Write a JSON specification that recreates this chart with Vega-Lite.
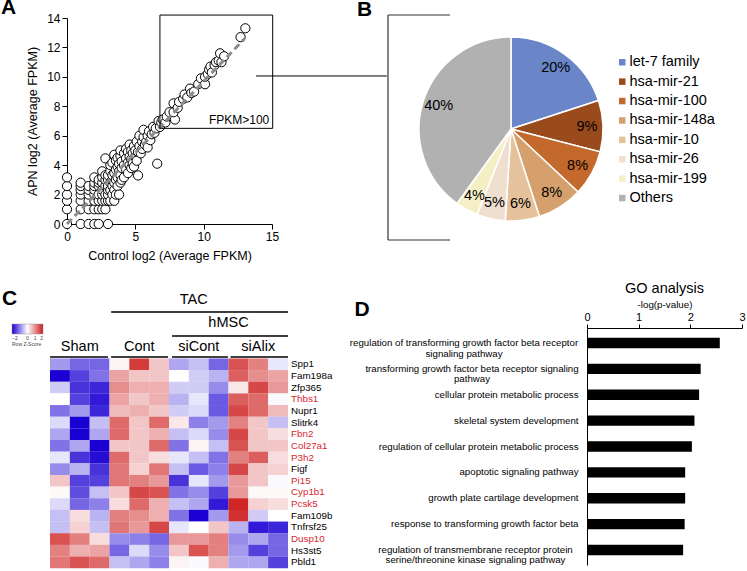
{
  "$schema": "https://vega.github.io/schema/vega-lite/v6.json",
  "padding": {"left": 1, "top": -3, "right": 2, "bottom": 0},
  "background": "white",
  "config": {
    "font": "Liberation Sans",
    "view": {"stroke": null},
    "axis": {"grid": false, "domainColor": "black", "tickColor": "black", "labelColor": "black", "titleColor": "black", "titleFontWeight": "normal", "labelFont": "Liberation Sans", "titleFont": "Liberation Sans", "labelOverlap": false},
    "legend": {"labelFont": "Liberation Sans", "titleFont": "Liberation Sans", "labelColor": "black"},
    "title": {"font": "Liberation Sans", "color": "black"},
    "text": {"font": "Liberation Sans"}
  },
  "datasets": {
    "scatter": [
      {"x":0,"y":0},{"x":0,"y":1},{"x":0,"y":1.58},{"x":0,"y":2},{"x":0,"y":2.58},{"x":0,"y":3.17},
      {"x":1,"y":0},{"x":1.58,"y":0},{"x":2,"y":0},{"x":2.32,"y":0},{"x":3,"y":0},
      {"x":1,"y":1},{"x":1,"y":1.58},{"x":1,"y":2},{"x":1,"y":2.32},{"x":1,"y":2.58},{"x":1,"y":2.81},
      {"x":1.58,"y":1},{"x":1.58,"y":1.58},{"x":1.58,"y":2},{"x":1.58,"y":2.32},{"x":1.58,"y":2.58},
      {"x":2,"y":1},{"x":2,"y":1.58},{"x":2,"y":2},{"x":2,"y":2.32},{"x":2,"y":2.58},{"x":2,"y":2.81},{"x":2,"y":3.17},
      {"x":2.32,"y":1},{"x":2.32,"y":1.58},{"x":2.32,"y":2},{"x":2.32,"y":2.58},{"x":2.32,"y":2.81},{"x":2.32,"y":3},
      {"x":2.58,"y":1},{"x":2.58,"y":1.58},{"x":2.58,"y":2},{"x":2.58,"y":2.32},{"x":2.58,"y":2.81},{"x":2.58,"y":3.17},{"x":2.58,"y":3.58},
      {"x":2.81,"y":1},{"x":2.81,"y":1.58},{"x":2.81,"y":2},{"x":2.81,"y":2.58},{"x":2.81,"y":3},{"x":2.81,"y":3.32},{"x":2.81,"y":4.46},
      {"x":3,"y":1.58},{"x":3,"y":2},{"x":3,"y":2.32},{"x":3,"y":2.58},{"x":3,"y":3},{"x":3,"y":3.32},
      {"x":3.17,"y":1.58},{"x":3.17,"y":2.32},{"x":3.17,"y":2.81},{"x":3.17,"y":3.58},{"x":3.17,"y":4},
      {"x":3.32,"y":2},{"x":3.32,"y":2.58},{"x":3.32,"y":3},{"x":3.32,"y":3.32},{"x":3.32,"y":4.17},
      {"x":3.46,"y":1.58},{"x":3.46,"y":2.32},{"x":3.46,"y":2.81},{"x":3.46,"y":3.46},{"x":3.46,"y":4.7},
      {"x":3.58,"y":2},{"x":3.58,"y":3},{"x":3.58,"y":3.7},{"x":3.58,"y":4.32},
      {"x":3.7,"y":2.58},{"x":3.7,"y":3.17},{"x":3.7,"y":3.9},{"x":3.7,"y":4.5},
      {"x":3.81,"y":2},{"x":3.81,"y":3.58},{"x":3.81,"y":4.09},
      {"x":3.91,"y":2.81},{"x":3.91,"y":3.32},{"x":3.91,"y":4.64},{"x":3.91,"y":5.0},
      {"x":4,"y":3},{"x":4,"y":3.81},{"x":4,"y":4.25},
      {"x":4.17,"y":3.17},{"x":4.17,"y":4.0},{"x":4.17,"y":4.8},
      {"x":4.32,"y":3.7},{"x":4.32,"y":4.46},{"x":4.32,"y":5.1},
      {"x":4.46,"y":3.46},{"x":4.46,"y":4.17},{"x":4.46,"y":4.9},
      {"x":4.58,"y":4.0},{"x":4.58,"y":4.58},{"x":4.58,"y":5.4},
      {"x":4.7,"y":3.8},{"x":4.7,"y":4.4},{"x":4.7,"y":5.0},
      {"x":4.81,"y":4.1},{"x":4.81,"y":4.8},{"x":4.9,"y":3.9},{"x":4.9,"y":5.3},
      {"x":5,"y":4.6},{"x":5,"y":5.0},{"x":5.1,"y":4.3},{"x":5.1,"y":5.6},
      {"x":5.2,"y":3.3},{"x":5.2,"y":4.9},{"x":5.3,"y":5.3},{"x":5.3,"y":6.0},
      {"x":5.4,"y":4.8},{"x":5.5,"y":5.6},{"x":5.5,"y":5.1},{"x":5.6,"y":5.9},{"x":5.6,"y":6.4},{"x":5.7,"y":5.4},
      {"x":5.8,"y":5.6},{"x":5.9,"y":6.0},{"x":5.9,"y":5.2},{"x":6,"y":6.3},{"x":6.1,"y":5.7},{"x":6.2,"y":6.1},
      {"x":6.3,"y":6.6},{"x":6.4,"y":6.2},{"x":6.5,"y":6.5},{"x":6.6,"y":4.1},{"x":6.7,"y":7.0},{"x":6.8,"y":6.6},
      {"x":6.9,"y":6.9},{"x":7.0,"y":7.1},{"x":7.2,"y":6.9},{"x":7.3,"y":7.3},{"x":7.5,"y":7.6},{"x":7.9,"y":7.1},
      {"x":7.8,"y":7.6},{"x":7.8,"y":8.2},{"x":8.1,"y":7.9},{"x":8.2,"y":8.3},{"x":8.5,"y":8.5},{"x":8.6,"y":8.8},
      {"x":8.8,"y":8.6},{"x":9.0,"y":9.2},{"x":9.1,"y":8.9},{"x":9.3,"y":9.0},{"x":9.6,"y":9.5},{"x":9.8,"y":9.9},
      {"x":10.1,"y":9.5},{"x":10.1,"y":10.0},{"x":10.3,"y":10.2},{"x":10.4,"y":10.5},{"x":10.5,"y":10.7},{"x":10.6,"y":10.3},
      {"x":10.8,"y":10.8},{"x":10.9,"y":11.0},{"x":11.1,"y":11.1},{"x":11.2,"y":11.6},{"x":11.3,"y":11.0},{"x":11.5,"y":11.4},
      {"x":12.7,"y":12.7},{"x":13.05,"y":13.3}
    ],
    "pie": [
      {"name":"let-7 family","v":20,"o":1,"label":"20%"},
      {"name":"hsa-mir-21","v":9,"o":2,"label":"9%"},
      {"name":"hsa-mir-100","v":8,"o":3,"label":"8%"},
      {"name":"hsa-mir-148a","v":8,"o":4,"label":"8%"},
      {"name":"hsa-mir-10","v":6,"o":5,"label":"6%"},
      {"name":"hsa-mir-26","v":5,"o":6,"label":"5%"},
      {"name":"hsa-mir-199","v":4,"o":7,"label":"4%"},
      {"name":"Others","v":40,"o":8,"label":"40%"}
    ],
    "heat": [
      {"g":"Spp1","r":1,"red":false,"1":-0.8,"2":-1.2,"3":-1.2,"4":0.1,"5":1.7,"6":0.5,"7":-0.7,"8":-0.5,"9":-1.2,"10":1.5,"11":1.1,"12":-0.2},
      {"g":"Fam198a","r":2,"red":false,"1":-2.0,"2":-1.5,"3":-1.1,"4":0.8,"5":0.5,"6":0.5,"7":0.0,"8":-0.4,"9":-0.6,"10":1.4,"11":1.0,"12":0.8},
      {"g":"Zfp365","r":3,"red":false,"1":-0.4,"2":-1.6,"3":-1.7,"4":1.0,"5":0.7,"6":0.7,"7":-0.4,"8":-0.4,"9":-0.9,"10":0.2,"11":1.6,"12":0.9},
      {"g":"Thbs1","r":4,"red":true,"1":0.0,"2":-1.5,"3":-1.8,"4":0.8,"5":0.5,"6":0.7,"7":-0.6,"8":-0.2,"9":-1.3,"10":1.4,"11":1.3,"12":-0.05},
      {"g":"Nupr1","r":5,"red":false,"1":-1.1,"2":-0.8,"3":-1.7,"4":0.6,"5":0.7,"6":0.5,"7":-0.4,"8":-0.3,"9":-1.3,"10":1.6,"11":1.3,"12":0.6},
      {"g":"Slitrk4","r":6,"red":false,"1":-0.3,"2":-2.2,"3":-0.5,"4":1.3,"5":0.5,"6":1.3,"7":0.2,"8":-1.0,"9":-0.8,"10":1.1,"11":0.5,"12":-0.5},
      {"g":"Fbn2","r":7,"red":true,"1":-0.7,"2":-2.2,"3":-0.7,"4":1.3,"5":0.5,"6":0.7,"7":-0.5,"8":-0.3,"9":-0.9,"10":1.6,"11":0.5,"12":0.3},
      {"g":"Col27a1","r":8,"red":true,"1":-1.1,"2":-0.7,"3":-2.0,"4":0.5,"5":0.5,"6":1.3,"7":-1.1,"8":0.1,"9":-0.5,"10":1.5,"11":0.5,"12":0.5},
      {"g":"P3h2","r":9,"red":true,"1":-0.2,"2":-1.6,"3":-1.9,"4":1.3,"5":0.5,"6":0.3,"7":-0.2,"8":-0.5,"9":-1.1,"10":1.1,"11":1.4,"12":0.3},
      {"g":"Figf","r":10,"red":false,"1":-0.9,"2":-0.6,"3":-1.6,"4":1.2,"5":0.4,"6":1.2,"7":-0.5,"8":-1.3,"9":-1.0,"10":1.6,"11":0.5,"12":0.4},
      {"g":"Pi15","r":11,"red":true,"1":0.5,"2":-1.5,"3":-1.5,"4":1.2,"5":1.1,"6":0.9,"7":-1.6,"8":-0.2,"9":-0.8,"10":0.9,"11":0.5,"12":-0.05},
      {"g":"Cyp1b1","r":12,"red":true,"1":0.05,"2":-1.4,"3":-0.5,"4":0.5,"5":1.6,"6":1.5,"7":-1.1,"8":-0.9,"9":-1.5,"10":0.9,"11":0.05,"12":0.05},
      {"g":"Pcsk5","r":13,"red":true,"1":-0.3,"2":-1.2,"3":-1.0,"4":0.3,"5":1.3,"6":0.7,"7":-0.5,"8":-0.7,"9":-1.8,"10":1.9,"11":0.4,"12":0.3},
      {"g":"Fam109b","r":14,"red":false,"1":-0.5,"2":0.3,"3":-0.6,"4":1.1,"5":1.0,"6":0.7,"7":-1.1,"8":-2.0,"9":-0.8,"10":1.8,"11":-0.4,"12":0.0},
      {"g":"Tnfrsf25","r":15,"red":false,"1":-0.5,"2":0.4,"3":-0.5,"4":1.2,"5":0.9,"6":1.6,"7":-0.2,"8":0.0,"9":0.5,"10":-0.6,"11":-1.8,"12":-1.7},
      {"g":"Dusp10","r":16,"red":true,"1":1.5,"2":1.1,"3":0.3,"4":-0.9,"5":-1.0,"6":-1.2,"7":0.9,"8":0.9,"9":1.1,"10":-0.9,"11":-0.7,"12":-1.2},
      {"g":"Hs3st5","r":17,"red":false,"1":1.1,"2":0.7,"3":0.8,"4":-1.2,"5":-0.3,"6":-0.9,"7":0.5,"8":1.5,"9":1.1,"10":-0.8,"11":-1.5,"12":-1.2},
      {"g":"Pbld1","r":18,"red":false,"1":1.2,"2":1.5,"3":1.3,"4":-0.5,"5":-0.7,"6":-1.0,"7":0.1,"8":-0.05,"9":0.7,"10":-0.7,"11":-0.7,"12":-1.5}
    ],
    "go": [
      {"term":"regulation of transforming growth factor beta receptor|signaling pathway","p":2.57},
      {"term":"transforming growth factor beta receptor signaling|pathway","p":2.2},
      {"term":"cellular protein metabolic process","p":2.17},
      {"term":"skeletal system development","p":2.08},
      {"term":"regulation of cellular protein metabolic process","p":2.03},
      {"term":"apoptotic signaling pathway","p":1.9},
      {"term":"growth plate cartilage development","p":1.9},
      {"term":"response to transforming growth factor beta","p":1.89},
      {"term":"regulation of transmembrane receptor protein|serine/threonine kinase signaling pathway","p":1.86}
    ]
  },
  "columns": 1,
  "align": "none",
  "spacing": 18,
  "concat": [
    {
      "spacing": -31,
      "hconcat": [
        {
          "width": 205,
          "height": 206,
          "title": {"text": "A", "anchor": "start", "frame": "group", "dx": -66, "offset": -23, "fontSize": 21, "fontWeight": "bold", "baseline": "alphabetic"},
          "encoding": {
            "x": {"field": "x", "type": "quantitative", "scale": {"domain": [0, 15], "nice": false},
                  "axis": {"values": [0, 5, 10, 15], "title": "Control log2 (Average FPKM)", "labelFontSize": 12, "titleFontSize": 12.5, "tickSize": 5, "labelPadding": 2, "titlePadding": 7, "labelFlush": false, "labelOverlap": false}},
            "y": {"field": "y", "type": "quantitative", "scale": {"domain": [0, 14], "nice": false},
                  "axis": {"values": [0, 2, 4, 6, 8, 10, 12, 14], "tickCount": 8, "title": "APN log2 (Average FPKM)", "labelFontSize": 12, "titleFontSize": 12.5, "tickSize": 5, "labelPadding": 2, "titlePadding": 7, "labelOverlap": false, "labelFlush": false, "labelSeparation": 0}}
          },
          "layer": [
            {
              "data": {"name": "scatter"},
              "mark": {"type": "point", "shape": "circle", "size": 85, "filled": true, "fill": "white", "stroke": "black", "strokeWidth": 1, "opacity": 1}
            },
            {
              "data": {"values": [{"x": 0, "y": 0, "x2": 13, "y2": 12.6}]},
              "mark": {"type": "rule", "color": "#8c8c8c", "strokeWidth": 3, "strokeDash": [7, 4]},
              "encoding": {"x2": {"field": "x2"}, "y2": {"field": "y2"}}
            },
            {
              "data": {"values": [{"x": 6.8, "x2": 15.05, "y": 6.5, "y2": 14.2}]},
              "mark": {"type": "rect", "fillOpacity": 0, "stroke": "black", "strokeWidth": 1},
              "encoding": {"x2": {"field": "x2"}, "y2": {"field": "y2"}}
            },
            {
              "data": {"values": [{"x": 14.8, "y": 7.05, "t": "FPKM>100"}]},
              "mark": {"type": "text", "align": "right", "baseline": "middle", "fontSize": 12},
              "encoding": {"text": {"field": "t"}}
            },
            {
              "data": {"values": [{"x": 13.83, "x2": 23.4, "y": 10.06}]},
              "mark": {"type": "rule", "color": "black", "strokeWidth": 1},
              "encoding": {"x2": {"field": "x2"}}
            }
          ]
        },
        {
          "width": 246,
          "height": 222,
          "title": {"text": "B", "anchor": "start", "frame": "group", "dx": -31, "offset": -23, "fontSize": 21, "fontWeight": "bold", "baseline": "alphabetic"},
          "layer": [
            {
              "data": {"values": [{"x": 0, "x2": 0, "y": 0, "y2": 1.0135}, {"x": 0, "x2": 0.252, "y": 1.0135, "y2": 1.0135}, {"x": 0, "x2": 0.252, "y": 0, "y2": 0}]},
              "mark": {"type": "rule", "color": "#333333", "strokeWidth": 1.2},
              "encoding": {
                "x": {"field": "x", "type": "quantitative", "scale": {"domain": [0, 1], "nice": false}, "axis": null},
                "x2": {"field": "x2"},
                "y": {"field": "y", "type": "quantitative", "scale": {"domain": [0, 1], "nice": false}, "axis": null},
                "y2": {"field": "y2"}
              }
            },
            {
              "data": {"name": "pie"},
              "mark": {"type": "arc", "outerRadius": 92, "stroke": "white", "strokeWidth": 1.5},
              "encoding": {
                "theta": {"field": "v", "type": "quantitative", "stack": true},
                "order": {"field": "o", "type": "quantitative"},
                "color": {"field": "name", "type": "nominal",
                  "scale": {"domain": ["let-7 family", "hsa-mir-21", "hsa-mir-100", "hsa-mir-148a", "hsa-mir-10", "hsa-mir-26", "hsa-mir-199", "Others"],
                            "range": ["#6a86c9", "#9a4b1e", "#c4692c", "#d5a06c", "#e5c29c", "#efdfcf", "#f6efc6", "#b1b1b1"]},
                  "legend": {"orient": "none", "legendX": 548, "legendY": 37, "title": null, "symbolType": "square", "symbolSize": 42, "symbolStrokeWidth": 0, "labelFontSize": 14.5, "rowPadding": 4.4, "labelOffset": 0, "padding": 0}}
              }
            },
            {
              "data": {"name": "pie"},
              "mark": {"type": "text", "radius": 76, "fontSize": 14.5, "color": "black"},
              "encoding": {
                "theta": {"field": "v", "type": "quantitative", "stack": true},
                "order": {"field": "o", "type": "quantitative"},
                "text": {"field": "label"}
              }
            }
          ]
        }
      ]
    },
    {
      "spacing": 16,
      "hconcat": [
        {
          "width": 221,
          "height": 240.2,
          "title": {"text": "C", "anchor": "start", "frame": "group", "dx": -65, "dy": 34, "offset": 0, "fontSize": 21, "fontWeight": "bold", "baseline": "alphabetic"},
          "layer": [
            {
              "data": {"name": "heat"},
              "transform": [{"fold": ["1", "2", "3", "4", "5", "6", "7", "8", "9", "10", "11", "12"], "as": ["s", "z"]}],
              "mark": {"type": "rect", "width": 19.9, "height": 11.75},
              "encoding": {
                "x": {"field": "s", "type": "quantitative", "scale": {"domain": [1.355, 12.5], "nice": false, "zero": false}, "axis": null},
                "y": {"field": "r", "type": "quantitative", "scale": {"domain": [-2.118, 18.5], "reverse": true, "nice": false, "zero": false}, "axis": null},
                "color": {"field": "z", "type": "quantitative",
                  "scale": {"domain": [-2, 0, 2], "range": ["#1a00d2", "#ffffff", "#cc1a1a"], "clamp": true, "interpolate": "rgb"},
                  "legend": {"orient": "none", "legendX": -55, "legendY": -4, "direction": "horizontal", "gradientLength": 31, "gradientThickness": 10, "values": [-2, 0, 1, 2], "labelFontSize": 5, "labelOffset": 2, "labelColor": "#444", "title": "Row Z-Score", "titleFontSize": 5, "titleFontWeight": "normal", "titleOrient": "bottom", "titlePadding": 1, "titleColor": "#444", "gradientStrokeColor": "#999", "gradientStrokeWidth": 0.5, "padding": 0}}
              }
            },
            {
              "data": {"values": [
                {"x": 0.5, "x2": 3.42, "y": 0.37}, {"x": 3.58, "x2": 6.45, "y": 0.37}, {"x": 6.65, "x2": 9.47, "y": 0.37}, {"x": 9.6, "x2": 12.5, "y": 0.37},
                {"x": 6.65, "x2": 12.5, "y": -1.43}, {"x": 3.58, "x2": 12.5, "y": -3.49}
              ]},
              "mark": {"type": "rule", "color": "black", "strokeWidth": 1.5},
              "encoding": {
                "x": {"field": "x", "type": "quantitative"},
                "x2": {"field": "x2"},
                "y": {"field": "y", "type": "quantitative"}
              }
            },
            {
              "data": {"values": [
                {"t": "Sham", "x": 2, "y": -0.49}, {"t": "Cont", "x": 5, "y": -0.49}, {"t": "siCont", "x": 8, "y": -0.49}, {"t": "siAlix", "x": 11, "y": -0.49},
                {"t": "hMSC", "x": 9.5, "y": -2.55}, {"t": "TAC", "x": 7.75, "y": -4.52}
              ]},
              "mark": {"type": "text", "fontSize": 14.5, "baseline": "middle", "align": "center"},
              "encoding": {
                "x": {"field": "x", "type": "quantitative"},
                "y": {"field": "y", "type": "quantitative"},
                "text": {"field": "t"}
              }
            },
            {
              "data": {"name": "heat"},
              "mark": {"type": "text", "fontSize": 9.8, "align": "left", "baseline": "middle", "dx": 3},
              "encoding": {
                "x": {"value": "width"},
                "y": {"field": "r", "type": "quantitative"},
                "text": {"field": "g"},
                "color": {"condition": {"test": "datum.red", "value": "#d8262e"}, "value": "black"}
              }
            }
          ]
        },
        {
          "width": 155,
          "height": 237,
          "title": {"text": "GO analysis", "anchor": "middle", "fontSize": 14.5, "fontWeight": "normal", "baseline": "alphabetic", "offset": -9},
          "data": {"name": "go"},
          "mark": {"type": "bar", "color": "black"},
          "encoding": {
            "y": {"field": "term", "type": "nominal", "sort": null,
                  "scale": {"paddingInner": 0.6, "paddingOuter": 0.38},
                  "axis": {"title": "D", "titleAngle": 0, "titleX": -233, "titleY": -13, "titleFontSize": 21, "titleFontWeight": "bold", "titleAlign": "left", "titleBaseline": "alphabetic",
                           "labelExpr": "split(datum.label, '|')", "labelFontSize": 9.7, "labelLineHeight": 10.5, "labelLimit": 0, "ticks": false,
                           "labelAlign": {"condition": {"test": "indexof(datum.value, '|') >= 0", "value": "center"}, "value": "right"},
                           "labelPadding": {"condition": [
                             {"test": "datum.value === 'regulation of transforming growth factor beta receptor|signaling pathway'", "value": 123.5},
                             {"test": "datum.value === 'transforming growth factor beta receptor signaling|pathway'", "value": 115.5},
                             {"test": "datum.value === 'regulation of transmembrane receptor protein|serine/threonine kinase signaling pathway'", "value": 112}
                           ], "value": 9}}},
            "x": {"field": "p", "type": "quantitative", "scale": {"domain": [0, 3], "nice": false},
                  "axis": {"orient": "top", "values": [0, 1, 2, 3], "title": "-log(p-value)", "titleFontSize": 9.8, "labelFontSize": 11, "tickSize": 4, "labelPadding": 2, "titlePadding": 2, "labelFlush": false}}
          }
        }
      ]
    }
  ]
}
